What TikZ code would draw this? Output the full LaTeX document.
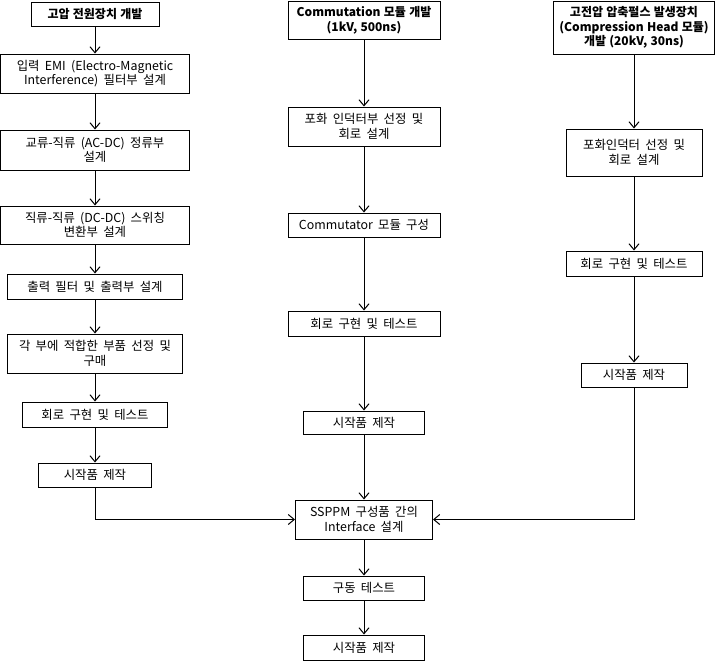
\documentclass[tikz,border=0pt]{standalone}
\usepackage{fontspec}
\setmainfont{Noto Sans CJK KR}[WordSpace=1.9, BoldFeatures={WordSpace=1.2}]
\usetikzlibrary{arrows.meta}

\tikzset{
  blk/.style={draw, line width=0.75pt, align=center, inner sep=0pt,
    font=\fontsize{9.3pt}{11pt}\selectfont},
  hdr/.style={blk, font=\fontsize{9pt}{11pt}\selectfont\bfseries},
  sz/.style 2 args={minimum width=#1*0.75pt, minimum height=#2*0.75pt},
  flow/.style={->, line width=0.75pt, >={Straight Barb[length=4.5pt,width=7.5pt]}}
}

\begin{document}
\begin{tikzpicture}[x=0.75pt, y=-0.75pt]
    \useasboundingbox (0,0) rectangle (719,661);
    % left column
    \node (l1) at (95,14) [hdr, sz={128}{24}] {고압 전원장치 개발};
    \node (l2) at (95,73.5) [blk, sz={189}{39}] {입력 EMI (Electro-Magnetic\\Interference) 필터부 설계};
    \node (l3) at (95,150) [blk, sz={189}{40}] {교류-직류 (AC-DC) 정류부\\설계};
    \node (l4) at (95,225) [blk, sz={189}{38}] {직류-직류 (DC-DC) 스위칭\\변환부 설계};
    \node (l5) at (95,286.5) [blk, sz={175}{25}] {출력 필터 및 출력부 설계};
    \node (l6) at (95,353.5) [blk, sz={175}{39}] {각 부에 적합한 부품 선정 및\\구매};
    \node (l7) at (95,414.5) [blk, sz={145}{25}] {회로 구현 및 테스트};
    \node (l8) at (95,475) [blk, sz={113}{24}] {시작품 제작};
    % middle column
    \node (m1) at (364,20) [hdr, sz={152}{38}] {Commutation 모듈 개발\\(1kV, 500ns)};
    \node (m2) at (364,126.5) [blk, sz={152}{39}] {포화 인덕터부 선정 및\\회로 설계};
    \node (m3) at (364,225) [blk, sz={152}{24}] {Commutator 모듈 구성};
    \node (m4) at (364,323.5) [blk, sz={152}{25}] {회로 구현 및 테스트};
    \node (m5) at (364,422.5) [blk, sz={121}{23}] {시작품 제작};
    % right column
    \node (r1) at (634,27.5) [hdr, sz={161}{53}] {고전압 압축펄스 발생장치\\(Compression Head 모듈)\\개발 (20kV, 30ns)};
    \node (r2) at (634,152.5) [blk, sz={136}{47}] {포화인덕터 선정 및\\회로 설계};
    \node (r3) at (634,263.5) [blk, sz={136}{25}] {회로 구현 및 테스트};
    \node (r4) at (634,375) [blk, sz={106}{24}] {시작품 제작};
    % bottom
    \node (b1) at (364,519.5) [blk, sz={137}{39}] {SSPPM 구성품 간의\\Interface 설계};
    \node (b2) at (364,588) [blk, sz={121}{24}] {구동 테스트};
    \node (b3) at (364,647.5) [blk, sz={121}{25}] {시작품 제작};

    \draw [flow] (l1) -- (l2);
    \draw [flow] (l2) -- (l3);
    \draw [flow] (l3) -- (l4);
    \draw [flow] (l4) -- (l5);
    \draw [flow] (l5) -- (l6);
    \draw [flow] (l6) -- (l7);
    \draw [flow] (l7) -- (l8);
    \draw [flow] (m1) -- (m2);
    \draw [flow] (m2) -- (m3);
    \draw [flow] (m3) -- (m4);
    \draw [flow] (m4) -- (m5);
    \draw [flow] (m5) -- (b1);
    \draw [flow] (r1) -- (r2);
    \draw [flow] (r2) -- (r3);
    \draw [flow] (r3) -- (r4);
    \draw [flow] (l8) |- (b1);
    \draw [flow] (r4) |- (b1);
    \draw [flow] (b1) -- (b2);
    \draw [flow] (b2) -- (b3);
\end{tikzpicture}
\end{document}
